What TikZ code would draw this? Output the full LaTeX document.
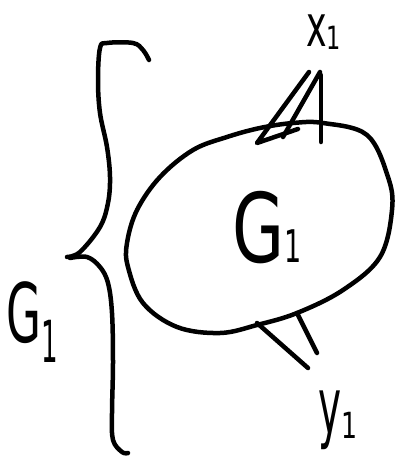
\documentclass[tikz,border=0pt]{standalone}
\usepackage{fontspec}
\setmainfont{DejaVu Sans}
\usetikzlibrary{positioning}

\tikzset{pen/.style={line width=4.5pt, line cap=round, line join=round}}

\begin{document}
\begin{tikzpicture}[x=1pt, y=-1pt]
\useasboundingbox (0,0) rectangle (398,460);
% the graph G1
\draw[pen] plot[smooth cycle, tension=0.6] coordinates {(323,123) (367,135) (388,177) (392,210) (380,257) (343,290) (297,313) (257,325) (220,333) (177,327) (143,303) (128,267) (127,243) (137,210) (160,177) (193,150) (227,137) (260,128) (293,123)};
\node[inner sep=0] (g) at (267,228) {\scalebox{0.7}[1]{\fontsize{96}{96}\selectfont G}\scalebox{0.6}[1]{\fontsize{45}{45}\selectfont 1}};
% brace
\draw[pen] plot[smooth, tension=0.6] coordinates {(67,257) (80,252) (100,227) (108,203) (110,177) (107,147) (100,113) (98,80) (100,48) (107,43) (133,43) (143,50) (149,60)};
\draw[pen] plot[smooth, tension=0.6] coordinates {(70,258) (87,257) (100,267) (108,283) (112,313) (113,363) (112,413) (113,440) (122,452) (128,453)};
\node[inner sep=0, anchor=base west] (gl) at (6,342) {\scalebox{0.55}[1]{\fontsize{82}{82}\selectfont G}\raisebox{-20pt}{\scalebox{0.45}[1]{\fontsize{58}{58}\selectfont 1}}};
% x1 and its edges
\node[inner sep=0, anchor=base west] (x) at (306,47) {\scalebox{0.6}[1]{\fontsize{58}{58}\selectfont x}\raisebox{-3pt}{\scalebox{0.7}[1]{\fontsize{32}{32}\selectfont 1}}};
\coordinate (xa1) at (309,72);
\coordinate (xa2) at (257,143);
\coordinate (xa3) at (298,129);
\coordinate (xb1) at (320,72);
\coordinate (xb2) at (283,137);
\coordinate (xc1) at (321,75);
\coordinate (xc2) at (321,142);
\draw[pen] (xa1) -- (xa2) -- (xa3);
\draw[pen] (xb1) -- (xb2);
\draw[pen] (xc1) -- (xc2);
% y1 and its edges
\node[inner sep=0, anchor=base west] (y) at (318,433) {\scalebox{0.5}[1]{\fontsize{78}{78}\selectfont y}\raisebox{-5pt}{\scalebox{0.7}[1]{\fontsize{36}{36}\selectfont 1}}};
\coordinate (ya1) at (257,323);
\coordinate (ya2) at (308,368);
\coordinate (yb1) at (297,313);
\coordinate (yb2) at (317,353);
\draw[pen] (ya1) -- (ya2);
\draw[pen] (yb1) -- (yb2);
\end{tikzpicture}
\end{document}
